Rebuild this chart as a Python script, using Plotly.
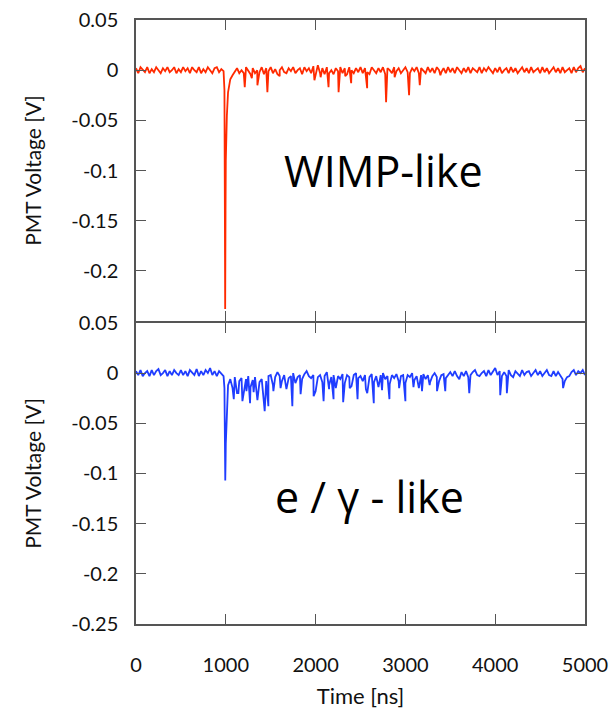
import plotly.graph_objects as go
from plotly.subplots import make_subplots

# %%
# Digitised PMT waveforms. Baseline samples every 25 ns (mV), plus
# extra samples at single-photoelectron spikes and the main pulse.
SAMPLE_STEP_NS = 25

wimp_baseline_mv = [
    2, -3, 3, 0, -2, 3, -3, 1, -2, 3, 0, -3, 2, -1, 3, -2, 0, 3, -3, 1,
    -2, 3, -1, 2, -3, 3, 0, -2, 3, -3, 1, -2, 3, 0, -3, 2, 3, -2, 1,
    -1, -90, -22, -9, -5, -2,
    2, -3, 0, -3, 3, -1, -4, 2, -3, 0, -2, 3, -4, 2, -1,
    3, -3, 1, -4, 0, 3, -2, -3, 2, -1, 3, -3, 0, 2, -4, 3, -1, 2, -3, 4,
    -4, 5, -3, 2, -4, 3, -3, 0, -4, 2, -1, 3, -3, 2, -4, 3, 0, -3, 2, -2,
    3, -3, 2, -2, -4, 3, 0, -3, 2, -2, 3, -4, 2, 0, -3, 3, -1, 2, -3, 0,
    3, -2, -3, 2, -1, 3, -3, 2, 0, -3, 3, -2, 2, -3, 3, 0, -2, 2, -3, 3,
    -2, 2, -3, 3, 0, -3, 2, -2, 3, -3, 2, 0, -2, 3, -3, 2, -1, 3, 0, -3,
    2, -2, 3, -3, 0, 2, -3, 3, -2, 2, -3, 0, 3, -2, 2, -3, 3, -2, 0, 2,
    -3, 3, -2, 2, -3, 0, 3, -2, 2, -3, 3, -2, 0, 2, -3, 3, -2, 2, 4, -2, 2,
]
wimp_spike_ns = [985, 990, 993, 997, 1005, 1012, 1040, 1211, 1290, 1352, 1463,
                 1600, 1987, 2056, 2144, 2256, 2330, 2396, 2574, 2785, 2880,
                 3041, 3160, 3390]
wimp_spike_mv = [-20, -150, -238, -140, -65, -45, -12, -17, -8, -15, -22,
                 -6, -10, -7, -17, -22, -6, -13, -18, -32, -7,
                 -25, -15, -5]

egamma_baseline_mv = [
    2, -2, 3, -3, 0, 2, -3, 3, -2, 2, 4, -2, 0, 3, -3, 2, -2, 3, 0, -2,
    3, -2, 2, -3, 3, 0, -2, 4, -3, 2, -2, 3, 0, 5, -2, 2, -3, 2, 0,
    -3, -70, -12,
    -6, -15, -4, -20, -8, -5, -18, -6, -3, -14, -7, -4, -22, -9, -6, -30, -8, -3,
    -2, -12, -4, 1, -3, -8, -2, -16, -5, -3, 0, -10, -4, -2, -6, -1, 2, -3, -5, -2,
    -18, -4, -2, -9, -3, 1, -12, -4, -2, -15, -3, -6, -1, -10, -2, -4, -13, -2, 0, -5,
    -3, -8, -2, -20, -4, -1, -9, -3, -14, -2, 0, -6, -3, -11, -2, -5, -1, -8, -3, -2,
    -10, -2, -4, 0, -7, -3, -15, -2, -1, -6, -2, -9, -3, 0, -4, -8, -2, -1, -5, -2,
    1, -3, 2, -3, -6, 1, -3, 2, -4, -2, 1, 3, -2, -3, 0, 2, -3, 3, -2, 1,
    5, -2, 2, -3, 1, -3, 3, -2, -4, 2, 0, -3, 3, -2, 1, 2, -3, 0, 3, -2,
    2, -3, 0, 3, -2, -3, 2, -3, 1, -3, -6, -8, -4, -3, 1, 3, -2, 2, 0, 3, -2,
]
egamma_spike_ns = [985, 990, 994, 998, 1005, 1012, 1018, 1089, 1140, 1185, 1230,
                   1270, 1310, 1352, 1433, 1474, 1530, 1610, 1741, 1833, 1978,
                   2089, 2150, 2200, 2307, 2380, 2467, 2560, 2648, 2740, 2822,
                   2930, 3000, 3090, 3185, 3270, 3352, 3444, 3711, 4056, 4130,
                   4756]
egamma_spike_mv = [-15, -80, -107, -85, -60, -40, -25, -26, -20, -28, -18,
                   -30, -19, -27, -38, -33, -18, -15, -33, -21, -23,
                   -28, -16, -26, -29, -15, -26, -16, -30, -17, -26,
                   -15, -28, -14, -18, -12, -18, -18, -20, -22, -20,
                   -15]

x_ticks = [0, 1000, 2000, 3000, 4000, 5000]
y_ticks = [0.05, 0, -0.05, -0.1, -0.15, -0.2, -0.25]
y_labels_top = ["0.05", "0", "-0.05", "-0.1", "-0.15", "-0.2", ""]
y_labels_bottom = ["0.05", "0", "-0.05", "-0.1", "-0.15", "-0.2", "-0.25"]


def waveform(baseline_mv, spike_ns, spike_mv):
    """Merge baseline samples and spike samples into one time-ordered trace (V)."""
    pts = [(i * SAMPLE_STEP_NS, v) for i, v in enumerate(baseline_mv)]
    pts += list(zip(spike_ns, spike_mv))
    pts.sort()
    return [p[0] for p in pts], [p[1] / 1000 for p in pts]


t_wimp, v_wimp = waveform(wimp_baseline_mv, wimp_spike_ns, wimp_spike_mv)
t_eg, v_eg = waveform(egamma_baseline_mv, egamma_spike_ns, egamma_spike_mv)

# %%
fig = make_subplots(rows=2, cols=1, vertical_spacing=0.003)
fig.add_trace(
    go.Scatter(x=t_wimp, y=v_wimp, mode="lines",
               line={"color": "#ff2a00", "width": 1.8}, showlegend=False),
    row=1, col=1,
)
fig.add_trace(
    go.Scatter(x=t_eg, y=v_eg, mode="lines",
               line={"color": "#1f3dff", "width": 1.8}, showlegend=False),
    row=2, col=1,
)

tick_font = {"family": "Lato", "size": 20, "color": "#111"}
frame = {
    "showline": True, "linecolor": "#555", "linewidth": 1.5, "mirror": "ticks",
    "ticks": "inside", "ticklen": 10, "tickwidth": 1.2, "tickcolor": "#555",
    "showgrid": False, "zeroline": False, "tickfont": tick_font,
    "automargin": False, "ticklabeloverflow": "allow",
}
for row in (1, 2):
    fig.update_xaxes(range=[0, 5000], tickvals=x_ticks,
                     showticklabels=(row == 2), ticklabelstandoff=22,
                     row=row, col=1, **frame)
    fig.update_yaxes(range=[-0.25, 0.05], tickvals=y_ticks,
                     ticktext=y_labels_top if row == 1 else y_labels_bottom,
                     ticklabelstandoff=12,
                     title={"text": "PMT Voltage [V]", "standoff": 24,
                            "font": {**tick_font, "size": 21}},
                     row=row, col=1, **frame)
fig.update_xaxes(title={"text": "Time [ns]", "standoff": 14,
                        "font": {**tick_font, "size": 22}}, row=2, col=1)

note_font = {"family": "Open Sans", "size": 43, "color": "black"}
fig.add_annotation(x=2760, y=-0.1, xref="x", yref="y", text="WIMP-like",
                   showarrow=False, font=note_font)
fig.add_annotation(x=2600, y=-0.123, xref="x2", yref="y2", text="e / γ - like",
                   showarrow=False, font=note_font)

fig.update_layout(
    width=613, height=710,
    margin={"l": 136, "r": 28, "t": 20, "b": 86},
    paper_bgcolor="white", plot_bgcolor="white",
)
# drop the default 8 px page margin so the figure fills the window exactly
fig.write_html(
    "out.html",
    config={"displayModeBar": False},
    post_script="document.body.style.margin='0';document.body.style.overflow='hidden';",
)
